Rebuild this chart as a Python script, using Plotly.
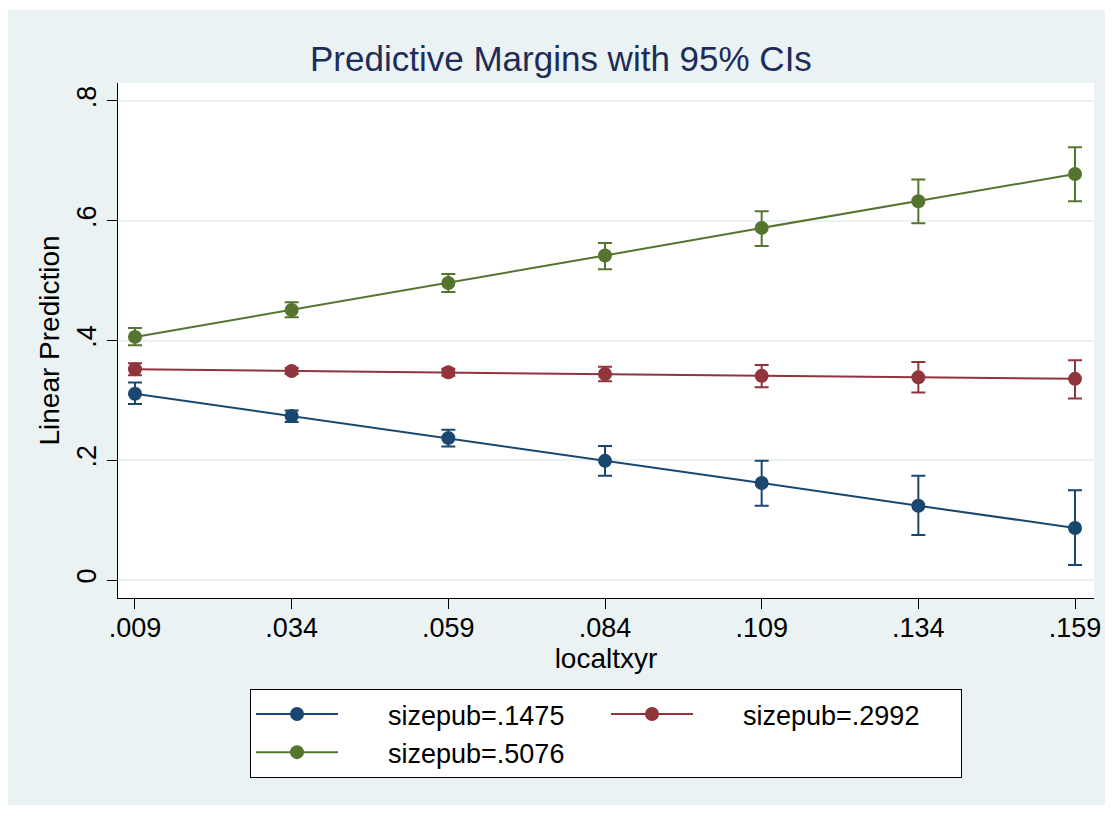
import plotly.graph_objects as go

x_vals = [0.009, 0.034, 0.059, 0.084, 0.109, 0.134, 0.159]
x_ticktext = [".009", ".034", ".059", ".084", ".109", ".134", ".159"]
y_tickvals = [0, 0.2, 0.4, 0.6, 0.8]
y_ticktext = ["0", ".2", ".4", ".6", ".8"]

series_names = ["sizepub=.1475", "sizepub=.2992", "sizepub=.5076"]
blue_y = [0.311, 0.274, 0.237, 0.199, 0.162, 0.124, 0.087]
blue_lo = [0.294, 0.264, 0.223, 0.174, 0.124, 0.075, 0.025]
blue_hi = [0.330, 0.283, 0.251, 0.224, 0.199, 0.174, 0.150]
red_y = [0.352, 0.349, 0.347, 0.344, 0.341, 0.3385, 0.336]
red_lo = [0.342, 0.344, 0.341, 0.332, 0.322, 0.313, 0.303]
red_hi = [0.362, 0.354, 0.353, 0.356, 0.359, 0.364, 0.367]
green_y = [0.406, 0.451, 0.496, 0.542, 0.588, 0.6325, 0.678]
green_lo = [0.392, 0.439, 0.481, 0.519, 0.558, 0.596, 0.6325]
green_hi = [0.421, 0.464, 0.511, 0.563, 0.616, 0.669, 0.7227]

colors = ["#1A476F", "#90353B", "#55752F"]
FONT = "Liberation Sans, Arial, Helvetica, sans-serif"
GAP = "\u00a0" * 6

fig = go.Figure()
for name, yv, lo, hi, col in zip(series_names,
                                 [blue_y, red_y, green_y],
                                 [blue_lo, red_lo, green_lo],
                                 [blue_hi, red_hi, green_hi], colors):
    fig.add_trace(go.Scatter(
        x=x_vals, y=yv, name=GAP + name, mode="lines+markers",
        line=dict(color=col, width=2),
        marker=dict(color=col, size=14),
        error_y=dict(type="data", symmetric=False,
                     array=[h - v for h, v in zip(hi, yv)],
                     arrayminus=[v - l for v, l in zip(yv, lo)],
                     color=col, thickness=2, width=7),
    ))

L, R, T, B = 118, 19, 83, 215
W, H = 1113, 813
pw, ph = W - L - R, H - T - B


def px(xp):
    return (xp - L) / pw


def py(yp):
    return (H - B - yp) / ph


fig.update_layout(
    width=W, height=H,
    margin=dict(l=L, r=R, t=T, b=B, autoexpand=False),
    paper_bgcolor="white", plot_bgcolor="white",
    font=dict(family=FONT, size=27, color="black"),
    title=dict(text="Predictive Margins with 95% CIs", x=0.504, xref="container",
               y=1 - 59 / H, yref="container", xanchor="center", yanchor="middle",
               font=dict(size=35, color="#1E2C58", family=FONT)),
    shapes=[
        dict(type="rect", xref="paper", yref="paper", x0=px(8), x1=px(1105),
             y0=py(805), y1=py(10), fillcolor="#EAF2F3", line=dict(width=0), layer="below"),
        dict(type="rect", xref="paper", yref="paper", x0=0, x1=1, y0=0, y1=1,
             fillcolor="white", line=dict(width=0), layer="below"),
    ],
    xaxis=dict(range=[0.00629, 0.16203], tickvals=x_vals, ticktext=x_ticktext,
               showgrid=False, zeroline=False, showline=True, linecolor="black", linewidth=1,
               ticks="outside", ticklen=10, tickcolor="black", tickwidth=1,
               tickfont=dict(size=27), ticklabelstandoff=-4,
               title=dict(text="localtxyr", font=dict(size=28), standoff=2)),
    yaxis=dict(range=[-0.030, 0.830], tickvals=y_tickvals, ticktext=y_ticktext,
               tickangle=-90,
               showgrid=True, gridcolor="#EAF2F3", gridwidth=2, zeroline=False,
               showline=True, linecolor="black", linewidth=1,
               ticks="outside", ticklen=10, tickcolor="black", tickwidth=1,
               tickfont=dict(size=27),
               title=dict(text="Linear Prediction", font=dict(size=28), standoff=4)),
    legend=dict(orientation="h", x=0.5, xanchor="center", y=py(689), yanchor="top",
                bgcolor="white", bordercolor="black", borderwidth=1,
                font=dict(size=27), itemwidth=82, entrywidth=258,
                tracegroupgap=0, traceorder="normal"),
)

fig.write_html("out.html", config={"displayModeBar": False},
               post_script="document.body.style.margin='0px';")
